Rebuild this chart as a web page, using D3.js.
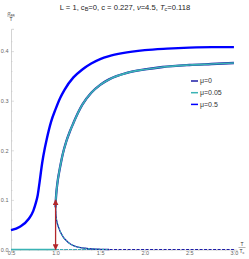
<!DOCTYPE html>
<html>
<head>
<meta charset="utf-8">
<script src="https://cdn.jsdelivr.net/npm/d3@7"></script>
<style>
  body { margin: 0; background: #fff; }
  text { font-family: "Liberation Sans", Arial, sans-serif; }
</style>
</head>
<body>
<div id="chart"></div>
<script>
// T/Tc grid and sigma/T readings for each branch
var xMu05 = [0.5, 0.6, 0.7, 0.75, 0.78, 0.8, 0.82, 0.85, 0.88, 0.9, 0.95, 1.0, 1.05, 1.1, 1.2, 1.3, 1.4, 1.5, 1.6, 1.75, 2.0, 2.25, 2.5, 2.75, 3.0];
var yMu05 = [0.039, 0.046, 0.062, 0.078, 0.095, 0.11, 0.135, 0.175, 0.205, 0.222, 0.258, 0.283, 0.305, 0.322, 0.347, 0.363, 0.375, 0.384, 0.39, 0.396, 0.402, 0.405, 0.407, 0.408, 0.408];

var xUpper = [1.0, 1.003, 1.008, 1.015, 1.025, 1.04, 1.06, 1.08, 1.12, 1.16, 1.2, 1.25, 1.3, 1.4, 1.5, 1.6, 1.8, 2.0, 2.2, 2.5, 2.75, 3.0];
var yMu0Upper = [0.085, 0.1, 0.113, 0.126, 0.14, 0.156, 0.175, 0.192, 0.218, 0.238, 0.255, 0.275, 0.292, 0.316, 0.332, 0.343, 0.356, 0.363, 0.368, 0.372, 0.374, 0.376];
var yMu005Upper = [0.085, 0.1, 0.113, 0.126, 0.14, 0.156, 0.175, 0.192, 0.218, 0.238, 0.255, 0.275, 0.292, 0.316, 0.332, 0.343, 0.356, 0.363, 0.368, 0.372, 0.374, 0.376];

var xLower = [1.0, 1.003, 1.008, 1.015, 1.025, 1.035, 1.05, 1.07, 1.09, 1.12, 1.15, 1.2, 1.25, 1.33, 1.42, 1.5, 1.6];
var yLower = [0.085, 0.072, 0.063, 0.056, 0.049, 0.044, 0.037, 0.03, 0.024, 0.018, 0.013, 0.008, 0.005, 0.0025, 0.001, 0.0004, 0];

var xFlat = [0.5, 1.0];
var yFlat = [0, 0];
var xNormal = [1.0, 3.0];
var yNormal = [0, 0];

var xTicks = [0.5, 1.0, 1.5, 2.0, 2.5, 3.0];
var yTicks = [0.0, 0.1, 0.2, 0.3, 0.4];
var legendLabels = ['\u03bc=0', '\u03bc=0.05', '\u03bc=0.5'];
var legendColors = ['#1c1ca6', '#3ab3b5', '#0000ff'];
var arrowX = 1.0;
var arrowY = [0.0, 0.1];

var width = 249, height = 259;
var svg = d3.select('#chart').append('svg')
    .attr('width', width)
    .attr('height', height);

var x = d3.scaleLinear().domain([0.5, 3.03]).range([11, 236.6]);
var y = d3.scaleLinear().domain([0, 0.445]).range([249.5, 28.8]);

// axes
var xAxis = d3.axisBottom(x).tickValues(xTicks).tickFormat(d3.format('.1f')).tickSize(3);
var xMinor = d3.axisBottom(x).tickValues(d3.range(0.6, 3.01, 0.1).filter(function(v) { return Math.abs(v * 2 - Math.round(v * 2)) > 1e-6; })).tickFormat('').tickSize(1.5);
var yAxis = d3.axisLeft(y).tickValues(yTicks).tickFormat(d3.format('.1f')).tickSize(-3);
var yMinor = d3.axisLeft(y).tickValues(d3.range(0.02, 0.44, 0.02).filter(function(v) { return Math.abs(v * 10 - Math.round(v * 10)) > 1e-6; })).tickFormat('').tickSize(-1.5);

function styleAxis(g) {
    g.select('.domain').attr('stroke', '#c8c8c8').attr('stroke-width', 0.8);
    g.selectAll('.tick line').attr('stroke', '#c8c8c8').attr('stroke-width', 0.6);
    g.selectAll('.tick text').attr('fill', '#666').style('font-size', '5.5px');
}

svg.append('g').attr('transform', 'translate(0,' + y(0) + ')').call(xMinor).call(styleAxis)
    .select('.domain').remove();
svg.append('g').attr('transform', 'translate(0,' + y(0) + ')').call(xAxis).call(styleAxis)
    .selectAll('.tick text').attr('dy', '0.6em').attr('y', 2);
svg.append('g').attr('transform', 'translate(' + x(0.5) + ',0)').call(yMinor).call(styleAxis)
    .select('.domain').remove();
svg.append('g').attr('transform', 'translate(' + x(0.5) + ',0)').call(yAxis).call(styleAxis)
    .selectAll('.tick text').attr('x', -2.5);

var line = d3.line()
    .x(function(d) { return x(d[0]); })
    .y(function(d) { return y(d[1]); })
    .curve(d3.curveMonotoneX);

function pairs(xs, ys) { return xs.map(function(v, i) { return [v, ys[i]]; }); }

var lineY = d3.line()
    .x(function(d) { return x(d[0]); })
    .y(function(d) { return y(d[1]); })
    .curve(d3.curveMonotoneY);

// normal-state dashed lines
svg.append('path').datum(pairs(xNormal, yNormal)).attr('d', line)
    .attr('fill', 'none').attr('stroke', legendColors[0]).attr('stroke-width', 1.1)
    .attr('stroke-dasharray', '3,1.5');
svg.append('path').datum(pairs([1.0, 1.5], [0, 0])).attr('d', line)
    .attr('fill', 'none').attr('stroke', legendColors[1]).attr('stroke-width', 1.1)
    .attr('stroke-dasharray', '3,1.5');

// flat solid part below Tc
svg.append('path').datum(pairs(xFlat, yFlat)).attr('d', line)
    .attr('fill', 'none').attr('stroke', legendColors[1]).attr('stroke-width', 1.6);

// unstable lower branch (dashed)
svg.append('path').datum(pairs(xLower, yLower)).attr('d', line)
    .attr('fill', 'none').attr('stroke', legendColors[0]).attr('stroke-width', 1.3);
svg.append('path').datum(pairs(xLower, yLower)).attr('d', line)
    .attr('fill', 'none').attr('stroke', legendColors[1]).attr('stroke-width', 1.1)
    .attr('stroke-dasharray', '2,1.5');

// upper branches
svg.append('path').datum(pairs(xUpper, yMu0Upper)).attr('d', line)
    .attr('fill', 'none').attr('stroke', legendColors[0]).attr('stroke-width', 2.3);
svg.append('path').datum(pairs(xUpper, yMu005Upper)).attr('d', line)
    .attr('fill', 'none').attr('stroke', legendColors[1]).attr('stroke-width', 1.7);

// mu = 0.5
svg.append('path').datum(pairs(xMu05, yMu05)).attr('d', line)
    .attr('fill', 'none').attr('stroke', legendColors[2]).attr('stroke-width', 2.4);

// red double arrow
var defs = svg.append('defs');
defs.append('marker').attr('id', 'ah').attr('viewBox', '0 0 10 10')
    .attr('refX', 9).attr('refY', 5).attr('markerWidth', 4.5).attr('markerHeight', 4.5)
    .attr('orient', 'auto-start-reverse')
    .append('path').attr('d', 'M0,0 L10,5 L0,10 z').attr('fill', '#b3262a');
svg.append('line')
    .attr('x1', x(arrowX)).attr('x2', x(arrowX))
    .attr('y1', y(arrowY[0])).attr('y2', y(arrowY[1]))
    .attr('stroke', '#b3262a').attr('stroke-width', 1.3)
    .attr('marker-start', 'url(#ah)').attr('marker-end', 'url(#ah)');

// legend
var leg = svg.append('g').attr('transform', 'translate(191,81)');
legendLabels.forEach(function(lab, i) {
    var g = leg.append('g').attr('transform', 'translate(0,' + (i * 11.7) + ')');
    g.append('line').attr('x1', 0).attr('x2', 7).attr('y1', 0).attr('y2', 0)
        .attr('stroke', legendColors[i]).attr('stroke-width', 1.5);
    g.append('text').attr('x', 9).attr('y', 2.4).style('font-size', '7px').attr('fill', '#333').text(lab);
});

// title
var title = svg.append('text').attr('x', 125).attr('y', 9.5).attr('text-anchor', 'middle')
    .style('font-size', '7.6px').attr('fill', '#222');
title.append('tspan').text('L = 1, c');
title.append('tspan').attr('dy', 1.8).style('font-size', '5.5px').text('B');
title.append('tspan').attr('dy', -1.8).text('=0, c = 0.227, ');
title.append('tspan').style('font-style', 'italic').text('\u03bd');
title.append('tspan').text('=4.5, ');
title.append('tspan').style('font-style', 'italic').text('T');
title.append('tspan').attr('dy', 1.8).style('font-size', '5.5px').style('font-style', 'italic').text('c');
title.append('tspan').attr('dy', -1.8).text('=0.118');

// y label fraction
var yl = svg.append('g').attr('transform', 'translate(11,0)');
var num = yl.append('text').attr('x', 0).attr('y', 14.5).attr('text-anchor', 'middle')
    .style('font-size', '5px').attr('fill', '#333');
num.append('tspan').style('font-style', 'italic').text('\u03c3');
num.append('tspan').attr('dy', 1).style('font-size', '4px').style('font-style', 'italic').text('xx');
yl.append('line').attr('x1', -4).attr('x2', 4).attr('y1', 16).attr('y2', 16).attr('stroke', '#444').attr('stroke-width', 0.4);
yl.append('text').attr('x', 0).attr('y', 21.2).attr('text-anchor', 'middle')
    .style('font-size', '5px').attr('fill', '#333').text('T');

// x label fraction
var xl = svg.append('g').attr('transform', 'translate(242,0)');
xl.append('text').attr('x', 0).attr('y', 246).attr('text-anchor', 'middle')
    .style('font-size', '5px').attr('fill', '#333').text('T');
xl.append('line').attr('x1', -3.5).attr('x2', 3.5).attr('y1', 247.5).attr('y2', 247.5).attr('stroke', '#444').attr('stroke-width', 0.4);
var den = xl.append('text').attr('x', 0).attr('y', 253).attr('text-anchor', 'middle')
    .style('font-size', '5px').attr('fill', '#333');
den.append('tspan').text('T');
den.append('tspan').attr('dy', 1).style('font-size', '4px').text('c');
</script>
</body>
</html>
